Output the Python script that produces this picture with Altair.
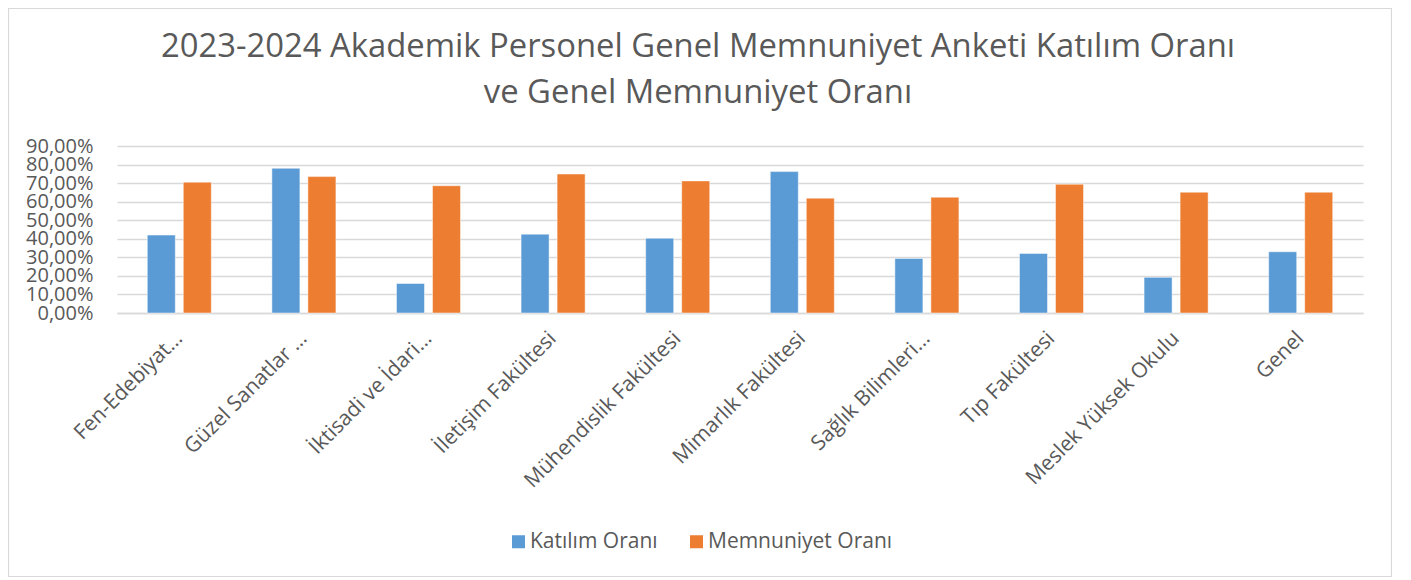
import altair as alt
import pandas as pd

categories = [
    "Fen-Edebiyat…",
    "Güzel Sanatlar …",
    "İktisadi ve İdari…",
    "İletişim Fakültesi",
    "Mühendislik Fakültesi",
    "Mimarlık Fakültesi",
    "Sağlık Bilimleri…",
    "Tıp Fakültesi",
    "Meslek Yüksek Okulu",
    "Genel",
]
katilim = [0.420, 0.780, 0.159, 0.425, 0.403, 0.762, 0.294, 0.321, 0.192, 0.330]
memnuniyet = [0.705, 0.735, 0.686, 0.749, 0.712, 0.619, 0.624, 0.694, 0.651, 0.651]
series = ["Katılım Oranı", "Memnuniyet Oranı"]
colors = ["#5B9BD5", "#ED7D31"]
y_ticks = [0, 0.1, 0.2, 0.3, 0.4, 0.5, 0.6, 0.7, 0.8, 0.9]
title_lines = ["2023-2024 Akademik Personel Genel Memnuniyet Anketi Katılım Oranı", "ve Genel Memnuniyet Oranı"]

rows = []
for c, k, m in zip(categories, katilim, memnuniyet):
    rows.append({"Birim": c, "Seri": series[0], "Oran": k})
    rows.append({"Birim": c, "Seri": series[1], "Oran": m})
df = pd.DataFrame(rows)

FONT = "Open Sans"
GRAY = "#595959"
PW, PH = 1246, 167
PL, PT, PR, PB = 109, 138, 29, 264

bars = alt.Chart(df).mark_bar(stroke="#ffffff", strokeWidth=0.8, strokeOpacity=0.6).encode(
    x=alt.X(
        "Birim:N",
        sort=categories,
        scale=alt.Scale(paddingInner=0.486, paddingOuter=0.243),
        axis=alt.Axis(
            title=None,
            labelAngle=-45,
            labelAlign="right",
            labelBaseline="middle",
            labelFont=FONT,
            labelFontSize=21,
            labelColor=GRAY,
            labelPadding=22,
            labelLimit=400,
            labelOverlap=False,
            ticks=False,
            domain=True,
            domainColor="#d9d9d9",
            domainWidth=1.5,
            grid=False,
        ),
    ),
    xOffset=alt.XOffset("Seri:N", sort=series, scale=alt.Scale(paddingInner=0.222, paddingOuter=0)),
    y=alt.Y(
        "Oran:Q",
        scale=alt.Scale(domain=[0, 0.9], nice=False),
        axis=alt.Axis(
            title=None,
            values=y_ticks,
            labelExpr="replace(format(datum.value, '.2%'), '.', ',')",
            labelFont=FONT,
            labelFontSize=20,
            labelColor=GRAY,
            labelPadding=24,
            labelOverlap=False,
            ticks=False,
            domain=False,
            gridColor="#d9d9d9",
            gridWidth=1.5,
        ),
    ),
    color=alt.Color(
        "Seri:N",
        sort=series,
        scale=alt.Scale(domain=series, range=colors),
        legend=alt.Legend(
            title=None,
            orient="none",
            direction="horizontal",
            legendX=391,
            legendY=385,
            symbolType="square",
            symbolSize=169,
            symbolStrokeWidth=0,
            labelFont=FONT,
            labelFontSize=21,
            labelColor=GRAY,
            labelOffset=1,
            labelLimit=400,
            columnPadding=28,
            padding=0,
        ),
    ),
)

one = pd.DataFrame({"a": [0]})

border = alt.Chart(one).mark_rect(
    fill=None, stroke="#d9d9d9", strokeWidth=1.2
).encode(
    x=alt.value(-PL + 0.5),
    x2=alt.value(PW + PR - 0.5),
    y=alt.value(-PT + 0.5),
    y2=alt.value(PH + PB - 0.5),
)

title1 = alt.Chart(one).mark_text(
    font=FONT, fontSize=32.8, color=GRAY, align="center", baseline="alphabetic"
).encode(x=alt.value(581), y=alt.value(-88.7), text=alt.value(title_lines[0]))

title2 = alt.Chart(one).mark_text(
    font=FONT, fontSize=32.8, color=GRAY, align="center", baseline="alphabetic"
).encode(x=alt.value(581), y=alt.value(-42.7), text=alt.value(title_lines[1]))

chart = alt.layer(border, title1, title2, bars).properties(
    width=PW,
    height=PH,
    padding={"left": PL, "top": PT, "right": PR, "bottom": PB},
    autosize=alt.AutoSizeParams(type="none"),
    background="white",
).configure_view(stroke=None)

chart.save("out.html", embed_options={"renderer": "svg", "actions": False})
